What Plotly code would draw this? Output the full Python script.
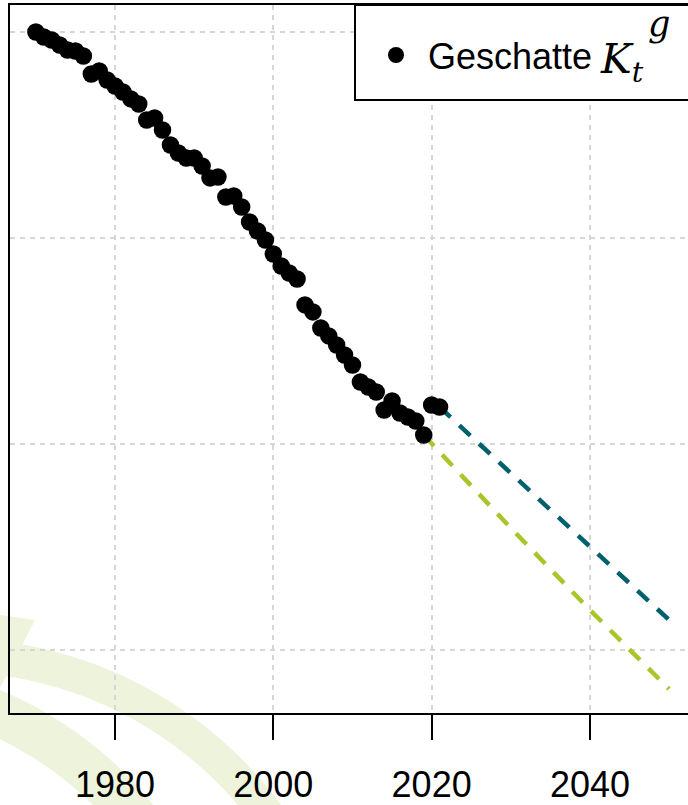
import math
import plotly.graph_objects as go

# ---------------- data ----------------
years = list(range(1970, 2022))
kt_est = [20.00, 19.51, 19.22, 18.74, 18.25, 18.16, 17.67, 15.92, 16.21, 15.34,
          14.76, 14.17, 13.50, 13.01, 11.46, 11.65, 10.49, 9.03, 8.25, 7.77,
          7.77, 6.99, 5.83, 5.92, 3.98, 4.08, 3.01, 1.55, 0.68, -0.19,
          -1.55, -2.72, -3.40, -3.98, -6.50, -7.18, -8.74, -9.51, -10.39, -11.36,
          -12.33, -13.98, -14.47, -14.95, -16.70, -15.83, -16.99, -17.38, -17.77, -19.13,
          -16.21, -16.41]

proj_green_years = [2019, 2030, 2040, 2050]
proj_green = [-19.13, -28.16, -36.12, -43.79]
proj_teal_years = [2021, 2030, 2040, 2050]
proj_teal = [-16.41, -22.82, -30.00, -37.09]

x_ticks = [1980, 2000, 2020, 2040]
y_grid = [20, 0, -20, -40]

# ---------------- layout constants ----------------
W, H = 688, 805
L, R, T, B = 10, 0, 5, 92
PW, PH = W - L - R, H - T - B
TEAL = "#00606B"
GREEN = "#A6C62B"
WM = "#EEF3DB"
FONT = "Liberation Sans, Arial, sans-serif"
SERIF = "DejaVu Serif, Liberation Serif, serif"


def px(xp):
    return (xp - L) / PW


def py(yp):
    return (H - B - yp) / PH


fig = go.Figure()

fig.add_trace(go.Scatter(x=proj_green_years, y=proj_green, mode="lines",
                         line=dict(color=GREEN, width=4.5, dash="15px,12px"),
                         showlegend=False, hoverinfo="skip"))
fig.add_trace(go.Scatter(x=proj_teal_years, y=proj_teal, mode="lines",
                         line=dict(color=TEAL, width=4.5, dash="15px,12px"),
                         showlegend=False, hoverinfo="skip"))
fig.add_trace(go.Scatter(x=years, y=kt_est, mode="markers",
                         marker=dict(color="black", size=17.5, line=dict(width=0)),
                         showlegend=False))

shapes = []


def band(cx, cy, r0, r1, a0, a1, n=60):
    pts = []
    for i in range(n + 1):
        a = math.radians(a0 + (a1 - a0) * i / n)
        pts.append((cx + r1 * math.cos(a), cy + r1 * math.sin(a)))
    for i in range(n, -1, -1):
        a = math.radians(a0 + (a1 - a0) * i / n)
        pts.append((cx + r0 * math.cos(a), cy + r0 * math.sin(a)))
    d = "M " + " L ".join(f"{px(x):.4f},{py(y):.4f}" for x, y in pts) + " Z"
    return dict(type="path", xref="paper", yref="paper", path=d,
                fillcolor=WM, line=dict(width=0), layer="below")


# watermark (logo arcs) in the lower-left corner
shapes.append(band(-50, 1050, 378, 412, -100, -20))
shapes.append(band(-150, 1050, 345, 390, -100, -20))
tri = [(0, 615), (35, 620), (0, 688)]
shapes.append(dict(type="path", xref="paper", yref="paper",
                   path="M " + " L ".join(f"{px(x):.4f},{py(y):.4f}" for x, y in tri) + " Z",
                   fillcolor=WM, line=dict(width=0), layer="below"))

# legend box
shapes.append(dict(type="rect", xref="paper", yref="paper",
                   x0=px(355), x1=px(720), y0=py(100), y1=py(5),
                   fillcolor="white", line=dict(color="black", width=2), layer="above"))
shapes.append(dict(type="circle", xref="paper", yref="paper",
                   xsizemode="pixel", ysizemode="pixel",
                   xanchor=px(396), yanchor=py(55), x0=-8, x1=8, y0=-8, y1=8,
                   fillcolor="black", line=dict(width=0), layer="above"))

annotations = [
    dict(xref="paper", yref="paper", x=px(426), y=py(56), xanchor="left", yanchor="middle",
         text="Geschatte", showarrow=False, font=dict(family=FONT, size=36, color="black")),
    dict(xref="paper", yref="paper", x=px(598), y=py(62), xanchor="left", yanchor="middle",
         text="<i>K</i><sub><i>t</i></sub>", showarrow=False,
         font=dict(family=SERIF, size=41, color="black")),
    dict(xref="paper", yref="paper", x=px(646), y=py(24), xanchor="left", yanchor="middle",
         text="<i>g</i>", showarrow=False,
         font=dict(family=SERIF, size=35, color="black")),
]

GRID = dict(showgrid=True, gridcolor="#D6D6D6", gridwidth=2, griddash="5px,5px")

fig.update_layout(
    width=W, height=H,
    margin=dict(l=L, r=R, t=T, b=B, pad=0),
    paper_bgcolor="white", plot_bgcolor="white",
    showlegend=False,
    shapes=shapes, annotations=annotations,
    xaxis=dict(range=[1966.73, 2052.39], tickvals=x_ticks, ticktext=[str(v) for v in x_ticks],
               ticks="outside", ticklen=25, tickwidth=2, tickcolor="black",
               showline=True, linecolor="black", linewidth=2, mirror=True,
               tickfont=dict(family=FONT, size=36, color="black"),
               ticklabelstandoff=14, automargin=False, zeroline=False, **GRID),
    yaxis=dict(range=[-46.12, 22.62], tickvals=y_grid, showticklabels=False, ticks="",
               showline=True, linecolor="black", linewidth=2, mirror=False,
               automargin=False, zeroline=False, **GRID),
)

fig.write_html("out.html")
